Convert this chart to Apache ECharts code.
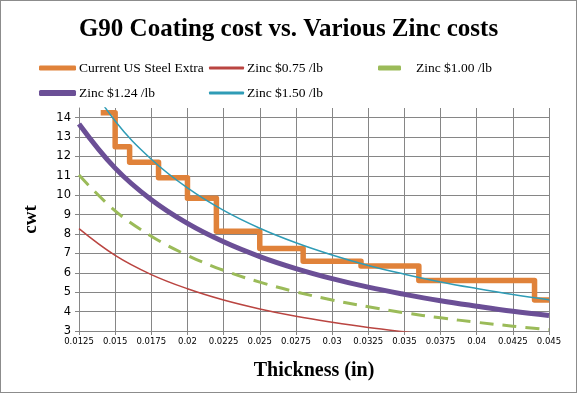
<!DOCTYPE html>
<html>
<head>
<meta charset="utf-8">
<script src="https://cdn.jsdelivr.net/npm/echarts@6/dist/echarts.min.js"></script>
<style>
html,body{margin:0;padding:0;background:#fff;}
#c{width:577px;height:393px;box-sizing:border-box;border:1px solid #8c8c8c;}
</style>
</head>
<body>
<div id="c"></div>
<script>
// Data
var titleText = 'G90 Coating cost vs. Various Zinc costs';
var xAxisName = 'Thickness (in)';
var yAxisName = 'cwt';
var seriesNames = ['Current US Steel Extra', 'Zinc $0.75 /lb', 'Zinc $1.00 /lb', 'Zinc $1.24 /lb', 'Zinc $1.50 /lb'];

// Current US Steel Extra (step line): thickness and value
var extraX = [0.014, 0.015, 0.016, 0.018, 0.020, 0.022, 0.025, 0.028, 0.032, 0.036, 0.044, 0.045];
var extraY = [14.25, 12.5, 11.7, 10.9, 9.85, 8.15, 7.25, 6.6, 6.35, 5.6, 4.6, 4.6];

// Zinc curves sampled at thickness values
var zincX = [0.0125, 0.015, 0.0175, 0.02, 0.0225, 0.025, 0.0275, 0.03, 0.0325, 0.035, 0.0375, 0.04, 0.0425, 0.045];
var zinc075 = [8.28, 6.9, 5.91, 5.18, 4.6, 4.14, 3.76, 3.45, 3.18, 2.96, 2.76, 2.59, 2.44, 2.3];
var zinc100 = [11.04, 9.2, 7.89, 6.9, 6.13, 5.52, 5.02, 4.6, 4.25, 3.94, 3.68, 3.45, 3.25, 3.07];
var zinc124 = [13.68, 11.4, 9.77, 8.55, 7.6, 6.84, 6.22, 5.7, 5.26, 4.89, 4.56, 4.28, 4.02, 3.8];
var zinc150 = [16.6, 13.83, 11.86, 10.38, 9.22, 8.3, 7.55, 6.92, 6.38, 5.93, 5.53, 5.19, 4.88, 4.61];

var xMin = 0.0125, xMax = 0.045, xStep = 0.0025;
var yMin = 3, yMax = 14.5, yStep = 1;

function pairs(xs, ys) { return xs.map(function (x, i) { return [x, ys[i]]; }); }

var colors = ['#E0823A', '#BA4541', '#9BBB59', '#6B4F96', '#2F9CB6'];
var serif = '"Liberation Serif", "DejaVu Serif", serif';

function legendAt(name, left, centerY, w, h, pad) {
  return {
    data: [{ name: name, icon: 'roundRect' }], left: left, top: centerY - 8, itemWidth: w, itemHeight: h,
    itemGap: 0, padding: 0, selectedMode: false,
    textStyle: { fontFamily: serif, fontSize: 13.5, color: '#000', padding: [0, 0, 0, pad || 0], height: 16, lineHeight: 16 }
  };
}

var chart = echarts.init(document.getElementById('c'), null, { renderer: 'canvas' });
chart.setOption({
  animation: false,
  backgroundColor: '#fff',
  title: {
    text: titleText, left: 'center', top: 11,
    textStyle: { fontFamily: serif, fontWeight: 'bold', fontSize: 25, color: '#000' }
  },
  legend: [
    legendAt(seriesNames[0], 38, 67, 37, 5, -2),
    legendAt(seriesNames[1], 208, 67, 35, 3, -2),
    legendAt(seriesNames[2], 377, 67, 23, 5, 10),
    legendAt(seriesNames[3], 38, 92, 37, 6, -2),
    legendAt(seriesNames[4], 208, 92, 35, 3, -2)
  ],
  grid: { left: 78, right: 27, top: 107, bottom: 61, containLabel: false },
  xAxis: {
    type: 'value', min: xMin, max: xMax, interval: xStep,
    name: xAxisName, nameLocation: 'middle', nameGap: 30,
    nameTextStyle: { fontFamily: serif, fontWeight: 'bold', fontSize: 20, color: '#000' },
    axisLine: { show: true, lineStyle: { color: '#868686', width: 1 } },
    axisTick: { show: true, length: 4, lineStyle: { color: '#868686' } },
    splitLine: { show: true, lineStyle: { color: '#868686', width: 1 } },
    axisLabel: {
      fontFamily: '"DejaVu Sans", sans-serif', fontSize: 8.5, color: '#000', margin: 6,
      formatter: function (v) { return String(+v.toFixed(5)); }
    }
  },
  yAxis: {
    type: 'value', min: yMin, max: yMax, interval: yStep,
    name: yAxisName, nameLocation: 'middle', nameGap: 38, nameRotate: 90,
    nameTextStyle: { fontFamily: serif, fontWeight: 'bold', fontSize: 19, color: '#000' },
    axisLine: { show: true, lineStyle: { color: '#868686', width: 1 } },
    axisTick: { show: true, length: 4, lineStyle: { color: '#868686' } },
    splitLine: { show: true, showMaxLine: false, lineStyle: { color: '#868686', width: 1 } },
    axisLabel: {
      fontFamily: '"DejaVu Sans", sans-serif', fontSize: 11.5, color: '#000', margin: 8,
      showMaxLabel: false
    }
  },
  series: [
    {
      name: seriesNames[1], type: 'line', data: pairs(zincX, zinc075), smooth: 0.4,
      symbol: 'none', color: colors[1], lineStyle: { width: 1.5, color: colors[1] }, z: 2
    },
    {
      name: seriesNames[2], type: 'line', data: pairs(zincX, zinc100), smooth: 0.4,
      symbol: 'none', color: colors[2], lineStyle: { width: 3, color: colors[2], type: [14, 9] }, z: 2
    },
    {
      name: seriesNames[3], type: 'line', data: pairs(zincX, zinc124), smooth: 0.4,
      symbol: 'none', color: colors[3], lineStyle: { width: 5, color: colors[3] }, z: 3
    },
    {
      name: seriesNames[0], type: 'line', data: pairs(extraX, extraY), step: 'end',
      symbol: 'none', color: colors[0], lineStyle: { width: 5.5, color: colors[0], join: 'round' }, z: 4
    },
    {
      name: seriesNames[4], type: 'line', data: pairs(zincX, zinc150), smooth: 0.4,
      symbol: 'none', color: colors[4], lineStyle: { width: 1.5, color: colors[4] }, z: 5
    }
  ]
});
</script>
</body>
</html>
